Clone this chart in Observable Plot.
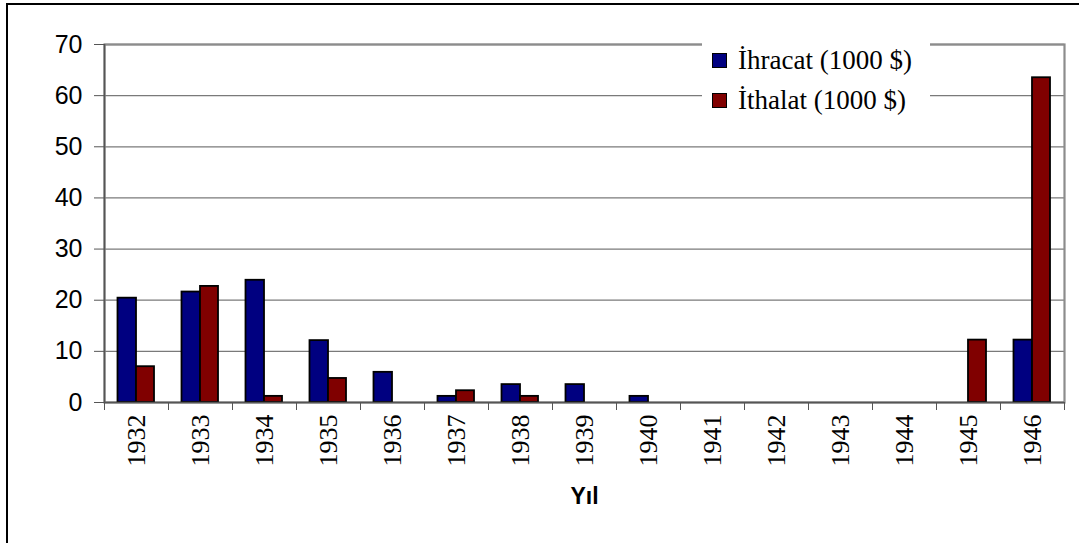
<!DOCTYPE html>
<html><head><meta charset="utf-8">
<script src="https://cdn.jsdelivr.net/npm/d3@7"></script>
<script src="https://cdn.jsdelivr.net/npm/@observablehq/plot@0.6"></script>
<style>
body{margin:0;background:#fff;overflow:hidden}
#wrap{position:relative;width:1079px;height:543px;overflow:hidden;background:#fff}
#chart{position:absolute;left:0;top:0}
#border{position:absolute;left:6px;top:3px;width:1200px;height:700px;border-left:2px solid #000;border-top:2px solid #000;pointer-events:none}
#legend{position:absolute;left:702px;top:43px;width:228px;height:88px;background:#fff;font-family:"Liberation Serif","Times New Roman",serif;font-size:27px;color:#000}
.item{position:absolute;left:0;height:27px;line-height:27px;display:flex;align-items:center;white-space:nowrap}
.sw{width:13px;height:13px;border:1.5px solid #000;margin-left:10px;margin-right:11px;flex:none}
.yr text{font-family:"Liberation Serif","Times New Roman",serif}
</style></head><body>
<div id="wrap"><div id="chart"></div><div id="border"></div><div id="legend"></div></div>
<script>
const years = ["1932","1933","1934","1935","1936","1937","1938","1939","1940","1941","1942","1943","1944","1945","1946"];
const ihracat = [20.4, 21.6, 23.9, 12.1, 5.9, 1.2, 3.5, 3.5, 1.2, 0, 0, 0, 0, 0, 12.2];
const ithalat = [7.0, 22.7, 1.2, 4.7, 0, 2.3, 1.2, 0, 0, 0, 0, 0, 0, 12.2, 63.5];
const seriesNames = ["İhracat (1000 $)", "İthalat (1000 $)"];
const seriesColors = ["#000080", "#800000"];
const yTicks = [0, 10, 20, 30, 40, 50, 60, 70];
const axisTitle = "Yıl";

const rows = years.flatMap((y, i) => [
  {year: y, series: seriesNames[0], value: ihracat[i]},
  {year: y, series: seriesNames[1], value: ithalat[i]}
]);

const W = 1079, H = 543, mL = 104, mR = 15, mT = 44, mB = 141;
const bw = (W - mL - mR) / years.length;
const serif = "'Liberation Serif', 'Times New Roman', serif";

const plot = Plot.plot({
  width: W, height: H,
  marginLeft: mL, marginRight: mR, marginTop: mT, marginBottom: mB,
  style: {fontFamily: "'Liberation Sans', Arial, sans-serif", background: "transparent", color: "#000", overflow: "visible"},
  x: {domain: years, padding: 0, axis: null},
  y: {domain: [0, 70], axis: null},
  marks: [
    Plot.gridY(yTicks, {stroke: "#7a7a7a", strokeOpacity: 1, strokeWidth: 1.3}),
    Plot.frame({stroke: "#8c8c8c", strokeWidth: 2.2}),
    Plot.barY(rows.filter(d => d.series === seriesNames[0] && d.value > 0), {
      x: "year", y: "value", fill: seriesColors[0], stroke: "#000", strokeWidth: 1.8,
      insetLeft: 13.5, insetRight: 32
    }),
    Plot.barY(rows.filter(d => d.series === seriesNames[1] && d.value > 0), {
      x: "year", y: "value", fill: seriesColors[1], stroke: "#000", strokeWidth: 1.8,
      insetLeft: 32, insetRight: 14
    }),
    Plot.ruleY([0], {stroke: "#555", strokeWidth: 1.6}),
    Plot.ruleX([years[0]], {dx: -bw / 2, y1: 0, y2: 70, stroke: "#555", strokeWidth: 1.6}),
    Plot.axisY(yTicks, {tickSize: 10, tickPadding: 12, fontSize: 25, stroke: "#555", label: null}),
    Plot.axisX(years, {tickSize: 8, text: null, dx: -bw / 2, stroke: "#555", label: null}),
    Plot.axisX([years[years.length - 1]], {tickSize: 8, text: null, dx: bw / 2, stroke: "#555", label: null}),
    Plot.text(years, {x: d => d, text: d => d, frameAnchor: "bottom", rotate: -90, textAnchor: "end", lineAnchor: "middle", dy: 12, fontSize: 26, fontFamily: serif, fill: "#000", className: "yr"}),
    Plot.text([axisTitle], {text: d => d, frameAnchor: "bottom", dy: 101, lineAnchor: "bottom", fontSize: 23, fontWeight: "bold"})
  ]
});
document.getElementById("chart").appendChild(plot);

const legend = document.getElementById("legend");
seriesNames.forEach((name, i) => {
  const item = document.createElement("div");
  item.className = "item";
  item.style.top = (4 + i * 40) + "px";
  const sw = document.createElement("span");
  sw.className = "sw";
  sw.style.background = seriesColors[i];
  const t = document.createElement("span");
  t.textContent = name;
  item.appendChild(sw);
  item.appendChild(t);
  legend.appendChild(item);
});
</script>
</body></html>
